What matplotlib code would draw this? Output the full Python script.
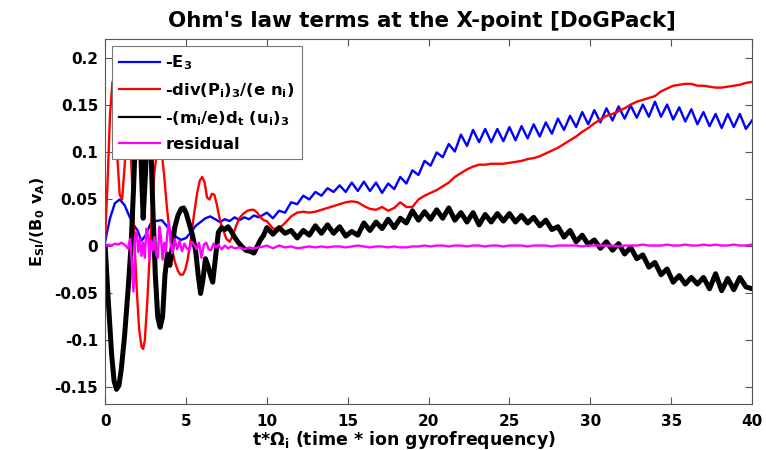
import numpy as np
import matplotlib
matplotlib.use("Agg")
import matplotlib.pyplot as plt
from matplotlib.ticker import FuncFormatter

plt.rcParams["font.family"] = ["DejaVu Sans"]
plt.rcParams["font.weight"] = "bold"
plt.rcParams["mathtext.fontset"] = "dejavusans"
plt.rcParams["mathtext.default"] = "bf"
plt.rcParams["axes.unicode_minus"] = False

# --- time traces at the X-point, t in units of 1/Omega_i ---------------------
# early transient (irregular sampling), then a common late grid
t_blue_early = [0, 0.1, 0.3, 0.6, 0.9, 1.2, 1.5, 1.8, 2.0, 2.25,
                2.5, 2.8, 3.1, 3.5, 3.8, 4.1, 4.4, 4.7, 5.0, 5.3,
                5.6, 5.9, 6.2, 6.5, 6.8, 7.1, 7.4, 7.7, 8.0, 8.3,
                8.6, 8.9, 9.2, 9.5, 9.8]
E3_early = [0.005, 0.014, 0.030, 0.046, 0.050, 0.044, 0.032, 0.022, 0.017, 0.006,
            0.012, 0.024, 0.027, 0.028, 0.022, 0.014, 0.010, 0.007, 0.009, 0.015,
            0.022, 0.026, 0.030, 0.032, 0.029, 0.026, 0.029, 0.027, 0.031, 0.028,
            0.031, 0.029, 0.033, 0.031, 0.034]

t_red_early = [0, 0.15, 0.3, 0.45, 0.6, 0.75, 0.9, 1.05, 1.2, 1.35,
               1.5, 1.65, 1.8, 1.95, 2.1, 2.25, 2.35, 2.45, 2.6, 2.75,
               2.9, 3.05, 3.2, 3.35, 3.5, 3.65, 3.8, 3.95, 4.1, 4.3,
               4.5, 4.65, 4.8, 4.95, 5.1, 5.3, 5.5, 5.7, 5.85, 6.0,
               6.15, 6.3, 6.45, 6.6, 6.75, 6.9, 7.05, 7.2, 7.35, 7.5,
               7.7, 7.9, 8.1, 8.3, 8.55, 8.8, 9.0, 9.2, 9.4, 9.6,
               9.8]
divP_early = [0.010, 0.070, 0.140, 0.175, 0.150, 0.095, 0.055, 0.050, 0.085, 0.125,
              0.130, 0.075, 0.010, -0.045, -0.088, -0.107, -0.109, -0.100, -0.060, -0.010,
              0.040, 0.080, 0.100, 0.105, 0.100, 0.075, 0.045, 0.020, 0.000, -0.016,
              -0.026, -0.030, -0.030, -0.025, -0.014, 0.008, 0.035, 0.058, 0.070, 0.074,
              0.068, 0.052, 0.050, 0.056, 0.055, 0.045, 0.032, 0.022, 0.015, 0.008,
              0.005, 0.012, 0.022, 0.030, 0.035, 0.038, 0.039, 0.039, 0.036, 0.031,
              0.028]

t_black_early = [0, 0.2, 0.4, 0.55, 0.7, 0.85, 1.0, 1.2, 1.4, 1.6,
                 1.75, 1.9, 2.05, 2.2, 2.35, 2.5, 2.65, 2.8, 2.95, 3.1,
                 3.25, 3.4, 3.55, 3.7, 3.85, 4.0, 4.15, 4.3, 4.5, 4.7,
                 4.85, 5.0, 5.2, 5.4, 5.6, 5.75, 5.9, 6.05, 6.2, 6.35,
                 6.5, 6.65, 6.8, 7.0, 7.2, 7.4, 7.6, 7.8, 8.0, 8.2,
                 8.45, 8.7, 8.95, 9.2, 9.4, 9.6, 9.8]
dtu_early = [0.000, -0.060, -0.115, -0.143, -0.152, -0.148, -0.130, -0.095, -0.050, 0.000,
             0.060, 0.130, 0.165, 0.100, 0.030, 0.080, 0.150, 0.120, 0.040, -0.030,
             -0.075, -0.086, -0.075, -0.030, -0.008, -0.020, 0.000, 0.020, 0.033, 0.040,
             0.041, 0.036, 0.024, 0.012, -0.005, -0.030, -0.050, -0.035, -0.013, -0.020,
             -0.030, -0.038, -0.015, 0.015, 0.020, 0.018, 0.021, 0.016, 0.010, 0.005,
             0.000, -0.004, -0.005, -0.007, 0.000, 0.007, 0.012]

t_res_early = [0, 0.2, 0.4, 0.6, 0.8, 1.0, 1.2, 1.4, 1.55, 1.65,
               1.75, 1.85, 1.95, 2.05, 2.15, 2.25, 2.35, 2.45, 2.55, 2.65,
               2.75, 2.85, 2.95, 3.05, 3.15, 3.25, 3.35, 3.45, 3.55, 3.65,
               3.75, 3.85, 3.95, 4.05, 4.15, 4.3, 4.45, 4.6, 4.75, 4.9,
               5.05, 5.2, 5.35, 5.5, 5.65, 5.8, 5.95, 6.1, 6.25, 6.4,
               6.55, 6.7, 6.85, 7.0, 7.2, 7.4, 7.6, 7.8, 8.0, 8.3,
               8.6, 8.9, 9.2, 9.5, 9.8]
res_early = [0.000, 0.002, 0.001, 0.003, 0.002, 0.004, 0.002, -0.002, 0.008, -0.020,
             -0.048, 0.010, 0.016, -0.006, 0.008, -0.010, 0.004, -0.012, 0.019, 0.012,
             -0.014, 0.006, -0.004, 0.010, -0.008, -0.012, 0.021, 0.010, -0.014, 0.004,
             -0.006, 0.015, 0.026, 0.004, -0.007, 0.008, -0.003, 0.006, -0.005, 0.003,
             -0.002, -0.004, 0.005, 0.002, -0.003, 0.004, -0.012, 0.002, 0.004, -0.003,
             -0.004, 0.003, -0.001, 0.002, -0.003, 0.001, -0.002, 0.000, -0.002, -0.001,
             -0.003, -0.001, -0.002, -0.001, 0.000]

t_late = [10.0, 10.375, 10.75, 11.125, 11.5, 11.875, 12.25, 12.625, 13.0, 13.375,
          13.75, 14.125, 14.5, 14.875, 15.25, 15.625, 16.0, 16.375, 16.75, 17.125,
          17.5, 17.875, 18.25, 18.625, 19.0, 19.375, 19.75, 20.125, 20.5, 20.875,
          21.25, 21.625, 22.0, 22.375, 22.75, 23.125, 23.5, 23.875, 24.25, 24.625,
          25.0, 25.375, 25.75, 26.125, 26.5, 26.875, 27.25, 27.625, 28.0, 28.375,
          28.75, 29.125, 29.5, 29.875, 30.25, 30.625, 31.0, 31.375, 31.75, 32.125,
          32.5, 32.875, 33.25, 33.625, 34.0, 34.375, 34.75, 35.125, 35.5, 35.875,
          36.25, 36.625, 37.0, 37.375, 37.75, 38.125, 38.5, 38.875, 39.25, 39.625,
          40.0]
E3_late = [0.036, 0.030, 0.038, 0.036, 0.047, 0.045, 0.054, 0.050, 0.058, 0.054,
           0.062, 0.058, 0.065, 0.058, 0.068, 0.059, 0.069, 0.059, 0.068, 0.057,
           0.067, 0.061, 0.074, 0.067, 0.081, 0.076, 0.091, 0.086, 0.100, 0.095,
           0.109, 0.101, 0.119, 0.107, 0.124, 0.111, 0.125, 0.111, 0.125, 0.112,
           0.127, 0.113, 0.128, 0.115, 0.130, 0.117, 0.132, 0.120, 0.136, 0.124,
           0.139, 0.127, 0.143, 0.130, 0.145, 0.132, 0.147, 0.134, 0.149, 0.136,
           0.150, 0.137, 0.151, 0.138, 0.154, 0.138, 0.151, 0.135, 0.148, 0.133,
           0.146, 0.130, 0.143, 0.128, 0.141, 0.126, 0.141, 0.127, 0.141, 0.125,
           0.134]
divP_late = [0.027, 0.019, 0.019, 0.025, 0.032, 0.036, 0.037, 0.036, 0.037, 0.039,
             0.041, 0.043, 0.045, 0.047, 0.048, 0.047, 0.043, 0.040, 0.039, 0.042,
             0.038, 0.041, 0.047, 0.042, 0.042, 0.050, 0.054, 0.057, 0.060, 0.064,
             0.068, 0.074, 0.078, 0.082, 0.085, 0.087, 0.087, 0.088, 0.088, 0.088,
             0.089, 0.090, 0.091, 0.093, 0.094, 0.096, 0.099, 0.102, 0.105, 0.109,
             0.113, 0.117, 0.122, 0.126, 0.131, 0.135, 0.139, 0.141, 0.144, 0.147,
             0.151, 0.154, 0.156, 0.158, 0.160, 0.165, 0.168, 0.171, 0.172, 0.173,
             0.173, 0.171, 0.171, 0.170, 0.169, 0.169, 0.170, 0.171, 0.172, 0.174,
             0.175]
dtu_late = [0.020, 0.013, 0.020, 0.014, 0.017, 0.009, 0.017, 0.012, 0.022, 0.014,
            0.023, 0.014, 0.021, 0.011, 0.016, 0.012, 0.025, 0.017, 0.026, 0.019,
            0.029, 0.020, 0.030, 0.025, 0.038, 0.028, 0.037, 0.029, 0.039, 0.030,
            0.041, 0.028, 0.036, 0.026, 0.036, 0.023, 0.034, 0.026, 0.035, 0.027,
            0.035, 0.026, 0.033, 0.025, 0.031, 0.022, 0.028, 0.018, 0.021, 0.010,
            0.017, 0.005, 0.012, 0.002, 0.007, -0.002, 0.005, -0.004, 0.003, -0.008,
            -0.001, -0.013, -0.009, -0.022, -0.017, -0.030, -0.024, -0.038, -0.031, -0.040,
            -0.033, -0.040, -0.033, -0.045, -0.029, -0.047, -0.034, -0.046, -0.033, -0.043,
            -0.045]
res_late = [0.001, -0.002, 0.001, -0.001, 0.000, -0.002, -0.001, 0.000, -0.001, 0.000,
            -0.001, 0.000, 0.000, -0.001, 0.000, 0.001, 0.000, -0.001, 0.000, 0.000,
            -0.001, 0.000, -0.001, -0.001, 0.000, 0.000, 0.001, 0.000, 0.001, 0.001,
            0.000, 0.001, 0.001, 0.000, 0.001, 0.001, 0.000, 0.001, 0.001, 0.000,
            0.001, 0.001, 0.001, 0.000, 0.001, 0.001, 0.001, 0.000, 0.001, 0.001,
            0.001, 0.001, 0.000, 0.001, 0.001, 0.001, 0.001, 0.001, 0.000, 0.001,
            0.001, 0.001, 0.002, 0.001, 0.001, 0.001, 0.002, 0.001, 0.001, 0.002,
            0.001, 0.001, 0.002, 0.001, 0.002, 0.001, 0.001, 0.002, 0.001, 0.001,
            0.002]

labels = [r"-E$_3$", r"-div(P$_i$)$_3$/(e n$_i$)",
          r"-(m$_i$/e)d$_t$ (u$_i$)$_3$", "residual"]

series = [
    (t_blue_early, E3_early, E3_late, "#0000ff", 1.7),
    (t_red_early, divP_early, divP_late, "#ff0000", 1.7),
    (t_black_early, dtu_early, dtu_late, "#000000", 3.6),
    (t_res_early, res_early, res_late, "#ff00ff", 1.7),
]

fig = plt.figure(figsize=(7.66, 4.5), dpi=100)
ax = fig.add_axes([0.1373, 0.1022, 0.8444, 0.8111])

handles = []
for (te, ye, yl, col, lw), lab in zip(series, labels):
    t = np.concatenate([te, t_late])
    y = np.concatenate([ye, yl])
    h, = ax.plot(t, y, color=col, lw=lw, label=lab)
    handles.append(h)

ax.set_xlim(0, 40)
ax.set_ylim(-0.1676, 0.2207)
ax.set_xticks([0, 5, 10, 15, 20, 25, 30, 35, 40])
ax.set_yticks([-0.15, -0.1, -0.05, 0, 0.05, 0.1, 0.15, 0.2])
ax.yaxis.set_major_formatter(FuncFormatter(lambda v, p: f"{v:g}"))
ax.tick_params(direction="in", top=True, right=True, length=5, width=0.8,
               color="#555555", labelsize=11)
ax.tick_params(axis="x", pad=7)
ax.tick_params(axis="y", pad=5)
for s in ax.spines.values():
    s.set_color("#555555")
    s.set_linewidth(0.8)

ax.set_title("Ohm's law terms at the X-point [DoGPack]", fontsize=15.4,
             fontweight="bold", pad=9, x=0.49)
ax.set_xlabel(r"t*$\Omega_i$ (time * ion gyrofrequency)", fontsize=12.5,
              fontweight="bold")
ax.xaxis.set_label_coords(0.462, -0.068)
ax.set_ylabel(r"E$_{SI}$/(B$_0$ v$_A$)", fontsize=11.5, fontweight="bold",
              labelpad=5)

leg = ax.legend(handles=handles, loc="upper left",
                bbox_to_anchor=(0.0105, 0.981), borderaxespad=0,
                fontsize=11.8, handlelength=2.5, handletextpad=0.3,
                labelspacing=0.56, borderpad=0.45, fancybox=False,
                framealpha=1, edgecolor="#777777")
leg.get_frame().set_linewidth(0.8)
for ln in leg.get_lines():
    ln.set_linewidth(1.6)

fig.savefig("out.png", dpi=100)
